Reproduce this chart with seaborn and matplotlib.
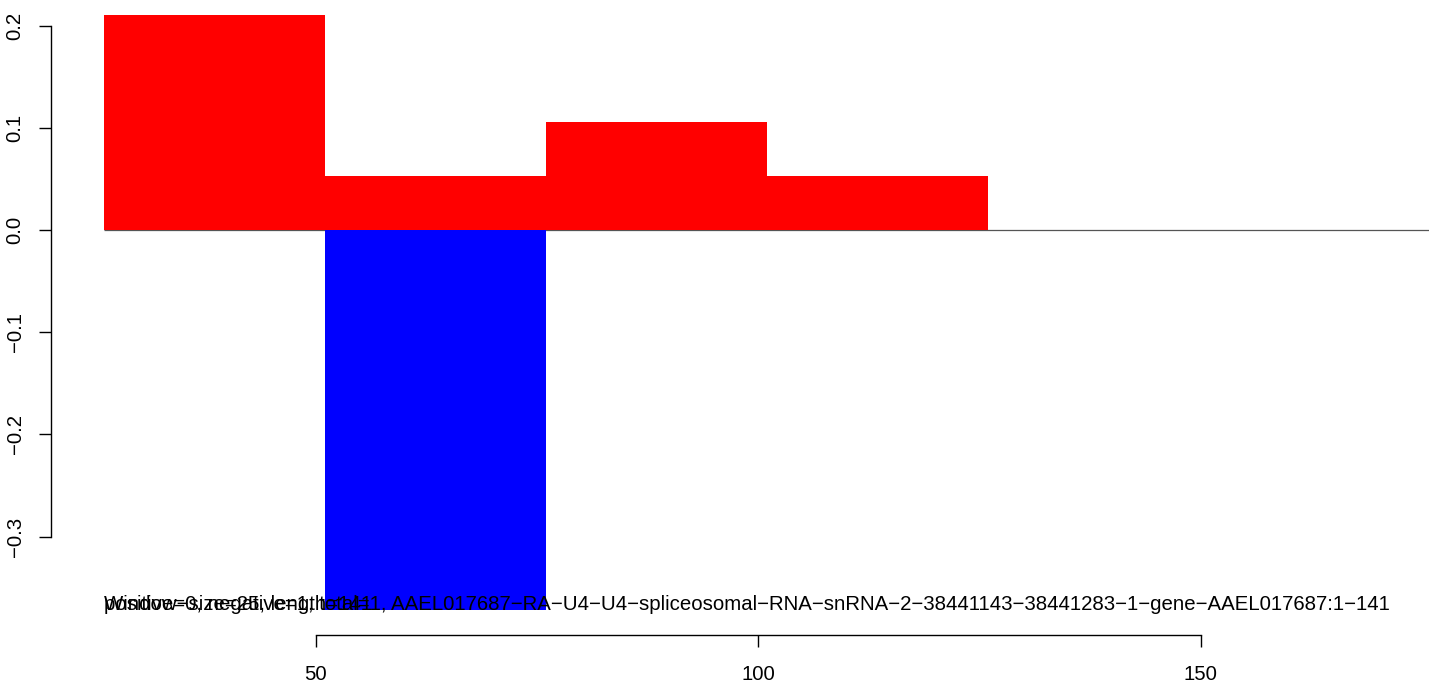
import numpy as np
import pandas as pd
import seaborn as sns
import matplotlib.pyplot as plt

# Datos: ventanas de 25 sobre una secuencia de largo 141
inicio_ventana = [26, 51, 76, 101, 126, 151]
ancho_ventana = 25
valores_pos = [0.2105, 0.0526, 0.1053, 0.0526, 0.0, 0.0]
valores_neg = [0.0, -0.3715, 0.0, 0.0, 0.0, 0.0]

ticks_x = [50, 100, 150]
etiquetas_x = ["50", "100", "150"]
ticks_y = [-0.3, -0.2, -0.1, 0.0, 0.1, 0.2]
etiquetas_y = ["\u22120.3", "\u22120.2", "\u22120.1", "0.0", "0.1", "0.2"]

texto_ventana = "Window\u2212size=25, length=141"
texto_conteo = ("positive=0, negative=1, total=1, AAEL017687\u2212RA\u2212U4\u2212U4\u2212"
                "spliceosomal\u2212RNA\u2212snRNA\u22122\u221238441143\u221238441283\u22121\u2212"
                "gene\u2212AAEL017687:1\u2212141")

# Armamos el DataFrame con el centro de cada ventana
centros = [i + ancho_ventana / 2 for i in inicio_ventana]
df = pd.DataFrame({"centro": centros, "pos": valores_pos, "neg": valores_neg})

sns.set_theme(style="white")
plt.rcParams["font.family"] = ["Liberation Sans", "DejaVu Sans"]
plt.rcParams["text.color"] = "black"

fig = plt.figure(figsize=(14.29, 6.82), dpi=100)
ax = fig.add_axes([0.03534, 0.0689, 1.0031, 0.9443])

# Linea base en cero (ventanas sin valor)
ax.hlines(0, inicio_ventana[0], inicio_ventana[-1] + ancho_ventana,
          color="#555555", linewidth=0.9, zorder=1)

sns.barplot(data=df, x="centro", y="pos", native_scale=True, width=1,
            color="#ff0000", saturation=1, errorbar=None, linewidth=0, ax=ax, zorder=2)
sns.barplot(data=df, x="centro", y="neg", native_scale=True, width=1,
            color="#0000ff", saturation=1, errorbar=None, linewidth=0, ax=ax, zorder=2)

ax.set_xlim(20, 182)
ax.set_ylim(-0.3963, 0.2339)

ax.set_xticks(ticks_x)
ax.set_xticklabels(etiquetas_x)
ax.set_yticks(ticks_y)
ax.set_yticklabels(etiquetas_y, rotation=90, va="center")
ax.set_xlabel("")
ax.set_ylabel("")

for lado in ["top", "right"]:
    ax.spines[lado].set_visible(False)
ax.spines["left"].set_bounds(-0.3, 0.2)
ax.spines["bottom"].set_bounds(50, 150)
for lado in ["left", "bottom"]:
    ax.spines[lado].set_color("black")
    ax.spines[lado].set_linewidth(1.0)

ax.tick_params(axis="both", direction="out", length=8.6, width=1.0,
               colors="black", labelsize=14.7, bottom=True, left=True)
ax.tick_params(axis="y", pad=10)
ax.tick_params(axis="x", pad=13)

# Textos superpuestos como en el original
y_texto = -0.3718
ax.text(26, y_texto, texto_ventana, fontsize=14.7, color="black",
        ha="left", va="baseline", zorder=3)
ax.text(26, y_texto, texto_conteo, fontsize=14.7, color="black",
        ha="left", va="baseline", zorder=3)

fig.savefig("out.png", dpi=100)
